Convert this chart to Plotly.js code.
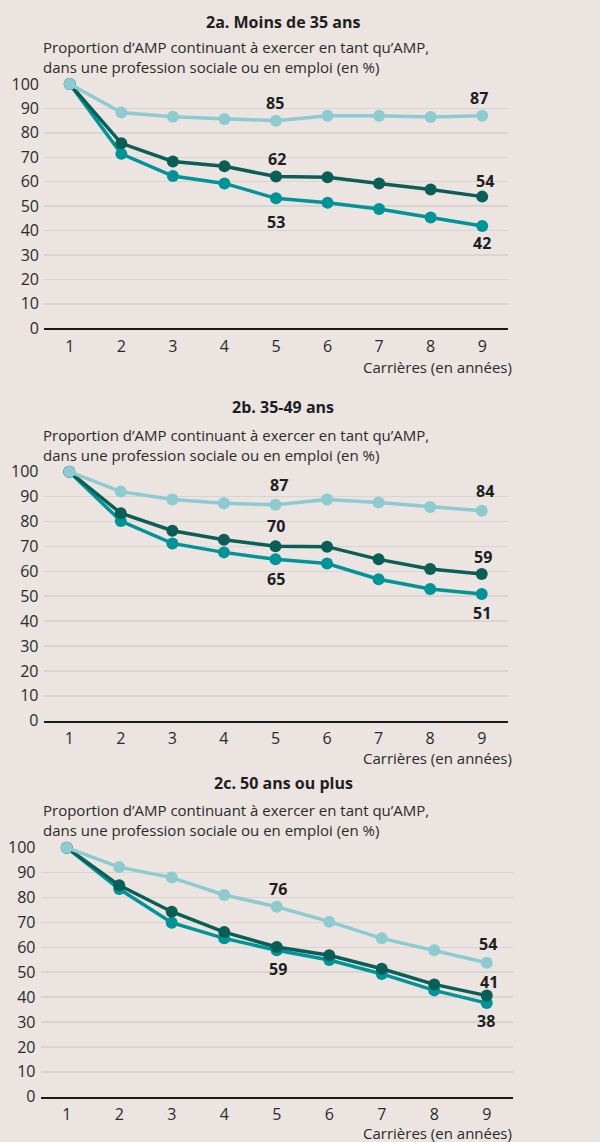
<!DOCTYPE html>
<html>
<head>
<meta charset="utf-8">
<script src="https://cdn.plot.ly/plotly-3.0.1.min.js"></script>
<style>
  html, body { margin: 0; padding: 0; background: #ece4e1; }
  #chart { width: 600px; height: 1142px; }
</style>
</head>
<body>
<div id="chart"></div>
<script>
// ---- Data ----
const years = [1, 2, 3, 4, 5, 6, 7, 8, 9];
const panelTitles = ["2a. Moins de 35 ans", "2b. 35-49 ans", "2c. 50 ans ou plus"];
const yAxisLabel = ["Proportion d\u2019AMP continuant à exercer en tant qu\u2019AMP,", "dans une profession sociale ou en emploi (en %)"];
const xAxisLabel = "Carrières (en années)";
const yTicks = [0, 10, 20, 30, 40, 50, 60, 70, 80, 90, 100];

// light = en emploi, dark = profession sociale, teal = en tant qu'AMP
const p1Light = [100, 88.3, 86.6, 85.7, 85.0, 87.0, 87.0, 86.5, 87.0];
const p1Dark  = [100, 75.7, 68.3, 66.3, 62.1, 61.8, 59.3, 56.8, 53.9];
const p1Teal  = [100, 71.4, 62.3, 59.3, 53.2, 51.4, 48.8, 45.4, 41.9];

const p2Light = [100, 92.0, 88.8, 87.3, 86.7, 88.8, 87.6, 85.8, 84.3];
const p2Dark  = [100, 83.3, 76.3, 72.7, 70.1, 69.9, 64.8, 60.9, 58.9];
const p2Teal  = [100, 80.2, 71.2, 67.6, 64.8, 63.1, 56.8, 52.9, 50.9];

const p3Light = [100, 92.2, 88.0, 81.0, 76.3, 70.3, 63.6, 58.8, 53.8];
const p3Dark  = [100, 84.9, 74.3, 66.1, 60.1, 56.8, 51.4, 45.1, 40.6];
const p3Teal  = [100, 83.4, 69.9, 63.6, 58.8, 54.9, 49.3, 42.7, 37.6];

// ---- Styling ----
const W = 600, H = 1142;
const FONT = "Open Sans, DejaVu Sans, sans-serif";
const C_LIGHT = "#8ecbd0", C_DARK = "#0b5e55", C_TEAL = "#009499";
const BG = "#ece4e1", GRID = "#dad4d1", TXT = "#1e1e1e";

const panels = [
  { light: p1Light, dark: p1Dark, teal: p1Teal, y0: 328.3, y100: 84, xl: 44, xr: 508, titleY: 22, labY: 47, carY: 367,
    labels: [ ["light", 4, 18, -1], ["light", 8, 17.5, -3], ["dark", 4, 17.6, 1], ["dark", 8, 15.6, 3], ["teal", 4, -23.4, 0], ["teal", 8, -17.3, 0] ] },
  { light: p2Light, dark: p2Dark, teal: p2Teal, y0: 720.7, y100: 471.7, xl: 43.5, xr: 507.5, titleY: 407, labY: 435, carY: 758,
    labels: [ ["light", 4, 19.8, 3], ["light", 8, 19.8, 3], ["dark", 4, 20, 0], ["dark", 8, 17.3, 1], ["teal", 4, -19.7, 0], ["teal", 8, -19.3, 0] ] },
  { light: p3Light, dark: p3Dark, teal: p3Teal, y0: 1096.7, y100: 847.7, xl: 40.5, xr: 513, titleY: 783, labY: 810, carY: 1133,
    labels: [ ["light", 4, 17.7, 1], ["light", 8, 18.7, 1], ["dark", 8, 13.6, 2], ["teal", 4, -18.7, 1], ["teal", 8, -17.7, -1] ] }
];

const data = [];
const layout = {
  width: W, height: H,
  margin: { l: 0, r: 0, t: 0, b: 0 },
  paper_bgcolor: BG, plot_bgcolor: BG,
  showlegend: false,
  font: { family: FONT, size: 15, color: TXT },
  annotations: []
};

panels.forEach((p, i) => {
  const n = i === 0 ? "" : String(i + 1);
  const xa = "x" + n, ya = "y" + n;
  const series = { teal: [p.teal, C_TEAL], dark: [p.dark, C_DARK], light: [p.light, C_LIGHT] };
  ["teal", "dark", "light"].forEach(k => {
    data.push({
      x: years, y: series[k][0], xaxis: xa, yaxis: ya,
      type: "scatter", mode: "lines+markers", cliponaxis: false,
      line: { color: series[k][1], width: 3.5 },
      marker: { color: series[k][1], size: 12 },
      hoverinfo: "skip"
    });
  });
  layout["xaxis" + n] = {
    domain: [p.xl / W, p.xr / W], range: [0.5, 9.5], anchor: ya,
    tickvals: years, ticktext: years.map(String), ticks: "", showgrid: false, zeroline: false,
    showline: true, linecolor: "#1a1a1a", linewidth: 2,
    tickfont: { family: FONT, size: 16, color: "#2a2a2a" }, ticklabelstandoff: 2,
    fixedrange: true
  };
  layout["yaxis" + n] = {
    domain: [1 - p.y0 / H, 1 - p.y100 / H], range: [0, 100], anchor: xa,
    tickvals: yTicks, ticks: "", showgrid: true, gridcolor: GRID, gridwidth: 1.5,
    zeroline: false, showline: false,
    tickfont: { family: FONT, size: 16, color: "#2a2a2a" }, ticklabelstandoff: 4,
    fixedrange: true
  };
  // panel title
  layout.annotations.push({
    xref: "paper", yref: "paper", x: 283 / W, y: 1 - p.titleY / H, xanchor: "center", yanchor: "middle",
    text: "<b>" + panelTitles[i] + "</b>", showarrow: false, font: { family: FONT, size: 16, color: TXT }
  });
  // y label (two lines)
  yAxisLabel.forEach((t, j) => {
    layout.annotations.push({
      xref: "paper", yref: "paper", x: 41 / W, y: 1 - (p.labY + j * 20) / H, xanchor: "left", yanchor: "middle",
      text: t, showarrow: false, font: { family: FONT, size: 15, color: "#2a2a2a" }
    });
  });
  // x label
  layout.annotations.push({
    xref: "paper", yref: "paper", x: 514 / W, y: 1 - p.carY / H, xanchor: "right", yanchor: "middle",
    text: xAxisLabel, showarrow: false, font: { family: FONT, size: 15, color: "#2a2a2a" }
  });
  // value labels
  p.labels.forEach(([k, idx, dy, dx]) => {
    const v = series[k][0][idx];
    layout.annotations.push({
      xref: xa, yref: ya, x: years[idx], y: v, xanchor: "center", yanchor: "middle",
      yshift: dy, xshift: dx, text: "<b>" + Math.round(v) + "</b>", showarrow: false,
      font: { family: FONT, size: 16, color: TXT }
    });
  });
});

Plotly.newPlot("chart", data, layout, { displayModeBar: false, staticPlot: true });
</script>
</body>
</html>
